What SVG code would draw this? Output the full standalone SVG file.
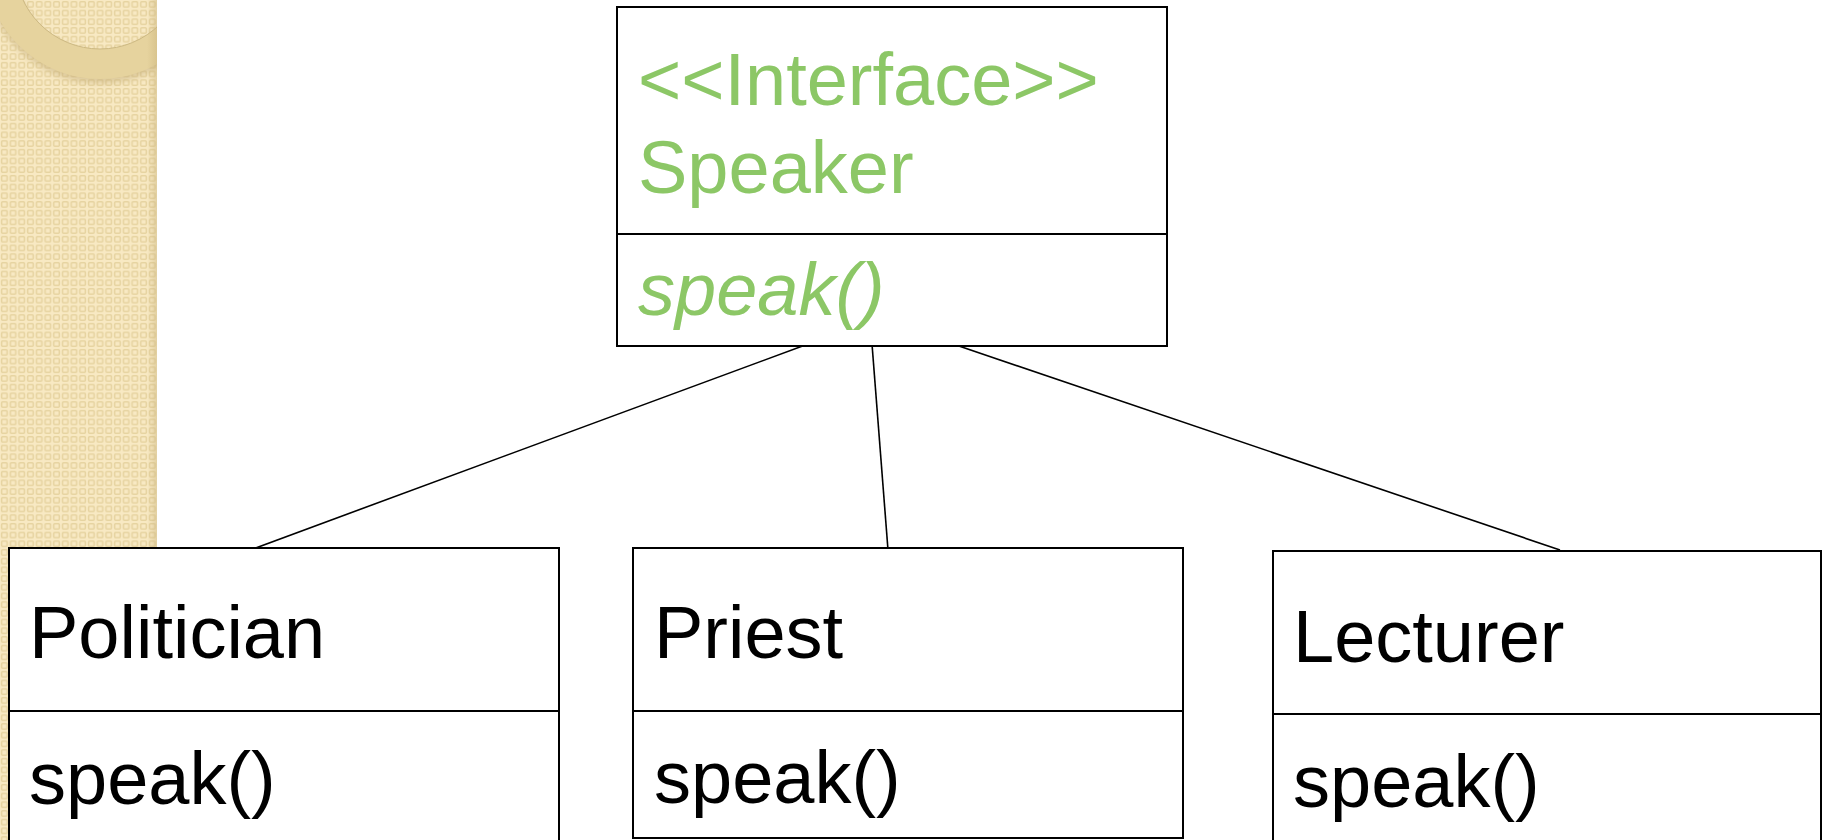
<svg xmlns="http://www.w3.org/2000/svg" width="1823" height="840" viewBox="0 0 1823 840">
<style>
.box{fill:#fff;stroke:#000;stroke-width:2}
.sep{stroke:#000;stroke-width:2}
.t{font-family:"Liberation Sans",Arial,sans-serif;font-size:74px}
.g{fill:#8CC766}
.k{fill:#000}
.conn line{stroke:#000;stroke-width:1.6}
</style>
<defs>
<pattern id="weave" patternUnits="userSpaceOnUse" width="8.7" height="8.7">
<rect width="8.7" height="8.7" fill="#F8E9C3"/>
<rect x="1.6" y="1.6" width="5.5" height="5.5" rx="1" fill="none" stroke="#E6D3A0" stroke-width="1.5"/>
</pattern>
<clipPath id="stripClip"><rect x="0" y="0" width="157" height="840"/></clipPath>
<linearGradient id="edge" x1="0" y1="0" x2="1" y2="0">
<stop offset="0" stop-color="#C8B27A" stop-opacity="0"/>
<stop offset="1" stop-color="#C8B27A" stop-opacity="0.45"/>
</linearGradient>
<filter id="blur" x="-20%" y="-20%" width="140%" height="140%"><feGaussianBlur stdDeviation="3"/></filter>
</defs>
<rect width="1823" height="840" fill="#fff"/>
<g id="sidebar" clip-path="url(#stripClip)">
<rect x="0" y="0" width="157" height="840" fill="url(#weave)"/>
<circle cx="100" cy="-32" r="100" fill="none" stroke="#BFA870" stroke-opacity="0.5" stroke-width="30" filter="url(#blur)"/>
<circle cx="100" cy="-36" r="100" fill="none" stroke="#E6D39E" stroke-width="30"/>
<circle cx="100" cy="-36" r="85" fill="none" stroke="#CDB983" stroke-width="1"/>
<rect x="147" y="0" width="10" height="840" fill="url(#edge)"/>
</g>
<g id="connectors" class="conn">
<line x1="808" y1="344" x2="250" y2="550"/>
<line x1="872" y1="344" x2="888" y2="550"/>
<line x1="953" y1="344" x2="1560" y2="550"/>
</g>
<g id="speaker">
<rect class="box" x="617" y="7" width="550" height="339"/>
<line class="sep" x1="617" y1="234" x2="1167" y2="234"/>
<text class="t g" x="638" y="105">&lt;&lt;Interface&gt;&gt;</text>
<text class="t g" x="638" y="193">Speaker</text>
<text class="t g" x="638" y="315" font-style="italic">speak()</text>
</g>
<g id="politician">
<rect class="box" x="9" y="548" width="550" height="310"/>
<line class="sep" x1="9" y1="711" x2="559" y2="711"/>
<text class="t k" x="29" y="658">Politician</text>
<text class="t k" x="29" y="804">speak()</text>
</g>
<g id="priest">
<rect class="box" x="633" y="548" width="550" height="290"/>
<line class="sep" x1="633" y1="711" x2="1183" y2="711"/>
<text class="t k" x="654" y="658">Priest</text>
<text class="t k" x="654" y="803">speak()</text>
</g>
<g id="lecturer">
<rect class="box" x="1273" y="551" width="548" height="310"/>
<line class="sep" x1="1273" y1="714" x2="1821" y2="714"/>
<text class="t k" x="1293" y="662">Lecturer</text>
<text class="t k" x="1293" y="807">speak()</text>
</g>
</svg>
